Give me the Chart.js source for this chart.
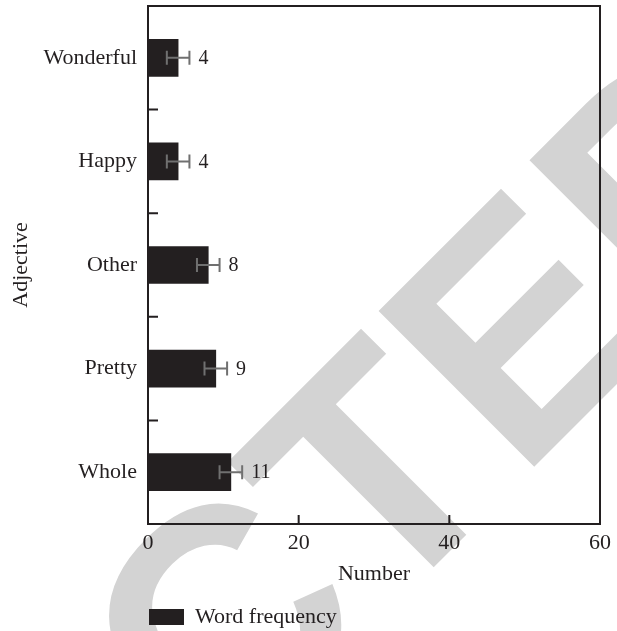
<!DOCTYPE html>
<html>
<head>
<meta charset="utf-8">
<script src="https://cdn.jsdelivr.net/npm/chart.js@4/dist/chart.umd.min.js"></script>
<style>
  html, body { margin: 0; padding: 0; background: #ffffff; }
  #wrap { width: 617px; height: 631px; }
</style>
</head>
<body>
<div id="wrap"><canvas id="chart" width="617" height="631"></canvas></div>
<script>
// Adjective usage counts with their error margins
const categories = ['Wonderful', 'Happy', 'Other', 'Pretty', 'Whole'];
const frequency = [4, 4, 8, 9, 11];
const errorMargin = [1.5, 1.5, 1.5, 1.5, 1.5];
const xTickValues = [0, 20, 40, 60];

const INK = '#231f20';
const WHISKER = '#707070';
const SERIF = '"Liberation Serif", "DejaVu Serif", serif';

// Large diagonal stamp behind the plot
const stampPlugin = {
  id: 'stamp',
  beforeDraw(chart) {
    const ctx = chart.ctx;
    ctx.save();
    ctx.font = 'bold 320px "Liberation Sans", Arial, sans-serif';
    ctx.fillStyle = '#d3d3d3';
    ctx.textAlign = 'left';
    ctx.textBaseline = 'alphabetic';
    const lead = ctx.measureText('RETRAC').width + ctx.measureText('T').width / 2;
    ctx.translate(450, 551);
    ctx.rotate(-Math.PI / 4);
    ctx.fillText('RETRACTED', -lead, 0);
    ctx.restore();
  }
};

// Frame around the plot area plus inward tick marks
const framePlugin = {
  id: 'frame',
  afterDraw(chart) {
    const {ctx, chartArea: a, scales: {x, y}} = chart;
    ctx.save();
    ctx.strokeStyle = INK;
    ctx.lineWidth = 2;
    ctx.strokeRect(a.left, a.top, a.right - a.left, a.bottom - a.top);
    ctx.beginPath();
    xTickValues.forEach(v => {
      const px = x.getPixelForValue(v);
      ctx.moveTo(px, a.bottom);
      ctx.lineTo(px, a.bottom - 9);
    });
    const n = categories.length;
    for (let i = 0; i <= n; i++) {
      let py;
      if (i === 0) py = a.top;
      else if (i === n) py = a.bottom;
      else py = (y.getPixelForTick(i - 1) + y.getPixelForTick(i)) / 2;
      ctx.moveTo(a.left, py);
      ctx.lineTo(a.left + 10, py);
    }
    ctx.stroke();
    ctx.restore();
  }
};

// Error whiskers and value labels on each bar
const whiskerPlugin = {
  id: 'whiskers',
  afterDatasetsDraw(chart) {
    const {ctx, scales: {x}} = chart;
    const meta = chart.getDatasetMeta(0);
    ctx.save();
    meta.data.forEach((bar, i) => {
      const v = frequency[i];
      const e = errorMargin[i];
      const x0 = x.getPixelForValue(v - e);
      const x1 = x.getPixelForValue(v + e);
      const cy = bar.y;
      ctx.strokeStyle = WHISKER;
      ctx.lineWidth = 2;
      ctx.beginPath();
      ctx.moveTo(x0, cy); ctx.lineTo(x1, cy);
      ctx.moveTo(x0, cy - 7); ctx.lineTo(x0, cy + 7);
      ctx.moveTo(x1, cy - 7); ctx.lineTo(x1, cy + 7);
      ctx.stroke();
      ctx.fillStyle = INK;
      ctx.font = '20px ' + SERIF;
      ctx.textAlign = 'left';
      ctx.textBaseline = 'middle';
      ctx.fillText(String(v), x1 + 9, cy + 1);
    });
    ctx.restore();
  }
};

new Chart(document.getElementById('chart'), {
  type: 'bar',
  data: {
    labels: categories,
    datasets: [{
      label: 'Word frequency',
      data: frequency,
      backgroundColor: INK,
      borderWidth: 0,
      barThickness: 37
    }]
  },
  options: {
    indexAxis: 'y',
    responsive: false,
    animation: false,
    layout: { padding: { top: 6, right: 17, bottom: -7, left: 0 } },
    scales: {
      x: {
        min: 0,
        max: 60,
        afterBuildTicks(scale) { scale.ticks = xTickValues.map(v => ({ value: v })); },
        afterFit(scale) { scale.height = 81; },
        grid: { display: false, drawTicks: false },
        border: { display: true, color: INK, width: 2 },
        ticks: { color: INK, font: { family: SERIF, size: 22 }, padding: 6, maxRotation: 0 },
        title: { display: true, text: 'Number', color: INK, font: { family: SERIF, size: 22 }, padding: { top: 0, bottom: 18 } }
      },
      y: {
        afterFit(scale) {
          scale.width = 148;
          scale.paddingTop = 0;
          scale.paddingBottom = 0;
        },
        grid: { display: false, drawTicks: false },
        border: { display: true, color: INK, width: 2 },
        ticks: { color: INK, font: { family: SERIF, size: 22 }, padding: 11 },
        title: { display: true, text: 'Adjective', color: INK, font: { family: SERIF, size: 22 }, padding: { top: 8, bottom: 0 } }
      }
    },
    plugins: {
      legend: {
        position: 'bottom',
        align: 'start',
        fullSize: false,
        labels: {
          color: INK,
          font: { family: SERIF, size: 22 },
          boxWidth: 35,
          boxHeight: 16,
          padding: 1
        }
      },
      tooltip: { enabled: false }
    }
  },
  plugins: [stampPlugin, framePlugin, whiskerPlugin]
});
</script>
</body>
</html>
